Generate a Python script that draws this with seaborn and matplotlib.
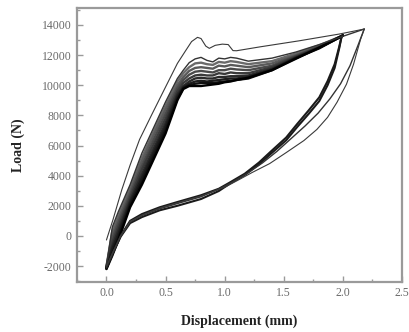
import matplotlib
matplotlib.use("Agg")
import matplotlib.pyplot as plt
import numpy as np
import pandas as pd
import seaborn as sns
from matplotlib.ticker import MultipleLocator, FixedLocator, FixedFormatter

# ---------------- data ----------------
# cycle 1 (first, outermost loop)
c1_load_x = [0.0, 0.055, 0.13, 0.2, 0.28, 0.38, 0.49, 0.6, 0.67, 0.72, 0.77, 0.80, 0.84, 0.87,
             0.92, 0.98, 1.03, 1.07, 1.1, 1.3, 1.63, 1.97, 2.18]
c1_load_y = [-270, 1070, 3070, 4700, 6400, 8000, 9730, 11450, 12300, 12900, 13180, 13100, 12600,
             12450, 12650, 12730, 12700, 12300, 12290, 12550, 12950, 13400, 13730]
c1_unload_x = [2.18, 2.15, 2.09, 2.03, 1.95, 1.87, 1.78, 1.67, 1.52, 1.38, 1.23, 1.12, 1.01,
               0.8, 0.6, 0.45, 0.3, 0.2, 0.12, 0.06, 0.0]
c1_unload_y = [13730, 13070, 11400, 10070, 8870, 7870, 7070, 6330, 5530, 4800, 4200, 3730, 3270,
               2650, 2200, 1850, 1380, 960, 0, -1000, -2000]

# cycle 2 (upper edge of the dense band, loaded again to the peak)
c2_load_x = [0.0, 0.05, 0.1, 0.2, 0.3, 0.4, 0.5, 0.6, 0.65, 0.7, 0.75, 0.8, 0.85, 0.9, 0.95,
             1.0, 1.05, 1.1, 1.2, 1.4, 1.6, 1.8, 2.0, 2.18]
c2_load_y = [-2000, 600, 1600, 3400, 5500, 7200, 8900, 10450, 11000, 11500, 11750, 11850, 11650,
             11550, 11800, 11750, 11850, 11800, 11600, 11800, 12200, 12700, 13250, 13730]
c2_unload_x = [2.18, 2.13, 2.06, 1.98, 1.89, 1.79, 1.68, 1.56, 1.44, 1.32, 1.19, 1.06, 0.96,
               0.8, 0.6, 0.45, 0.3, 0.2, 0.12, 0.06, 0.0]
c2_unload_y = [13730, 12700, 11300, 10100, 9100, 8150, 7300, 6450, 5600, 4850, 4150, 3550, 3150,
               2600, 2150, 1800, 1350, 930, -20, -1020, -2080]

# remaining cycles (dense band), loading on a shared displacement grid
band_load_x = [0.0, 0.05, 0.1, 0.2, 0.3, 0.4, 0.5, 0.6, 0.65, 0.7, 0.75, 0.8, 0.85, 0.9, 0.95,
               1.0, 1.05, 1.1, 1.2, 1.4, 1.6, 1.8, 2.0]
c3_load = [-2020, 350, 1350, 3200, 5200, 6950, 8650, 10250, 10800, 11200, 11450, 11500, 11400,
           11350, 11550, 11500, 11600, 11550, 11400, 11600, 12100, 12650, 13300]
c4_load = [-2050, 100, 1100, 2950, 4950, 6700, 8400, 10000, 10550, 10950, 11150, 11200, 11150,
           11100, 11300, 11250, 11350, 11300, 11200, 11450, 12000, 12600, 13300]
c5_load = [-2070, -150, 850, 2750, 4650, 6400, 8100, 9800, 10350, 10700, 10900, 10950, 10900,
           10850, 11000, 11000, 11100, 11050, 11000, 11300, 11950, 12550, 13300]
c6_load = [-2100, -400, 600, 2550, 4400, 6100, 7800, 9600, 10150, 10450, 10650, 10700, 10650,
           10650, 10800, 10750, 10850, 10800, 10800, 11200, 11900, 12550, 13300]
c7_load = [-2120, -650, 350, 2350, 4100, 5800, 7500, 9400, 9950, 10250, 10450, 10500, 10450,
           10450, 10550, 10550, 10600, 10600, 10650, 11100, 11850, 12500, 13300]
c8_load = [-2150, -850, 100, 2200, 3850, 5550, 7250, 9250, 9850, 10100, 10250, 10300, 10250,
           10300, 10350, 10400, 10450, 10450, 10550, 11050, 11800, 12500, 13300]
c9_load = [-2170, -1100, -150, 2050, 3600, 5300, 7000, 9100, 9800, 10000, 10100, 10150, 10150,
           10150, 10200, 10250, 10300, 10350, 10450, 11000, 11800, 12450, 13300]
c10_load = [-2200, -1300, -300, 1900, 3400, 5100, 6800, 9000, 9750, 9950, 9950, 9950, 10000,
            10050, 10100, 10200, 10250, 10350, 10500, 11000, 11750, 12500, 13300]

# dense band unloading on a shared displacement grid
band_unload_x = [1.99, 1.97, 1.93, 1.87, 1.8, 1.71, 1.61, 1.52, 1.39, 1.29, 1.17, 1.04, 0.95,
                 0.8, 0.6, 0.45, 0.3, 0.2, 0.12, 0.06, 0.0]
unload_a = [13270, 12600, 11400, 10270, 9200, 8330, 7400, 6530, 5600, 4870, 4130, 3530, 3130,
            2700, 2250, 1900, 1450, 1000, 0, -1000, -2100]
unload_b = [13300, 12500, 11150, 10000, 8950, 8100, 7200, 6350, 5450, 4750, 4050, 3450, 2980,
            2450, 2000, 1700, 1250, 850, -50, -1050, -2150]

x_ticks = [0.0, 0.5, 1.0, 1.5, 2.0, 2.5]
x_tick_labels = ["0.0", "0.5", "1.0", "1.5", "2.0", "2.5"]
y_ticks = [-2000, 0, 2000, 4000, 6000, 8000, 10000, 12000, 14000]
y_tick_labels = ["-2000", "0", "2000", "4000", "6000", "8000", "10000", "12000", "14000"]

# ---------------- long-form table ----------------
rows = []
def add(path, group, xs, ys):
    for i, (a, b) in enumerate(zip(xs, ys)):
        rows.append({"path": path, "group": group, "order": i, "disp": a, "load": b})

add("c1_load", "outer", c1_load_x, c1_load_y)
add("c1_unload", "outer", c1_unload_x, c1_unload_y)
add("c2_load", "mid", c2_load_x, c2_load_y)
add("c2_unload", "mid", c2_unload_x, c2_unload_y)
band_cycles = [("c3", c3_load), ("c4", c4_load), ("c5", c5_load), ("c6", c6_load),
               ("c7", c7_load), ("c8", c8_load), ("c9", c9_load), ("c10", c10_load)]
for name, ys in band_cycles:
    add(name + "_load", "band", band_load_x, ys)
add("ua", "unl", band_unload_x, unload_a)
add("ub", "unl", band_unload_x, unload_b)
df = pd.DataFrame(rows)

# ---------------- figure ----------------
sns.set_style("ticks")
plt.rcParams["font.family"] = ["Liberation Serif", "DejaVu Serif"]

fig = plt.figure(figsize=(4.09, 3.32), dpi=100)
ax = fig.add_axes([0.188, 0.151, 0.795, 0.825])

band_df = df[df.group == "band"]
grays = ["#6a6a6a", "#5a5a5a", "#4a4a4a", "#3a3a3a", "#2a2a2a", "#1c1c1c", "#101010", "#000000"]
sns.lineplot(data=band_df, x="disp", y="load", hue="path", palette=grays, units="path",
             estimator=None, sort=False, lw=1.7, ax=ax, legend=False)
sns.lineplot(data=df[df.group == "unl"], x="disp", y="load", units="path", estimator=None,
             sort=False, color="#1a1a1a", lw=1.5, ax=ax, legend=False)
sns.lineplot(data=df[df.group == "mid"], x="disp", y="load", units="path", estimator=None,
             sort=False, color="#333333", lw=1.0, ax=ax, legend=False)
sns.lineplot(data=df[df.group == "outer"], x="disp", y="load", units="path", estimator=None,
             sort=False, color="#3a3a3a", lw=0.8, ax=ax, legend=False)

ax.set_xlim(-0.25, 2.5)
ax.set_ylim(-3050, 15130)
ax.xaxis.set_major_locator(FixedLocator(x_ticks))
ax.xaxis.set_major_formatter(FixedFormatter(x_tick_labels))
ax.yaxis.set_major_locator(FixedLocator(y_ticks))
ax.yaxis.set_major_formatter(FixedFormatter(y_tick_labels))
ax.xaxis.set_minor_locator(MultipleLocator(0.25))
ax.yaxis.set_minor_locator(MultipleLocator(1000))

spine_c = "#9a9a9a"
for s in ax.spines.values():
    s.set_visible(True)
    s.set_color(spine_c)
    s.set_linewidth(1.6)
ax.tick_params(which="both", direction="in", color=spine_c, width=1.0, top=False, right=False)
ax.tick_params(which="major", length=4, labelsize=8.5, labelcolor="#6a6a6a", pad=4)
ax.tick_params(which="minor", length=2.5)

ax.set_xlabel("Displacement (mm)", fontsize=10, fontweight="bold", color="#222222", labelpad=11)
ax.set_ylabel("Load (N)", fontsize=10, fontweight="bold", color="#222222", labelpad=12)

fig.savefig("out.png", dpi=100)
